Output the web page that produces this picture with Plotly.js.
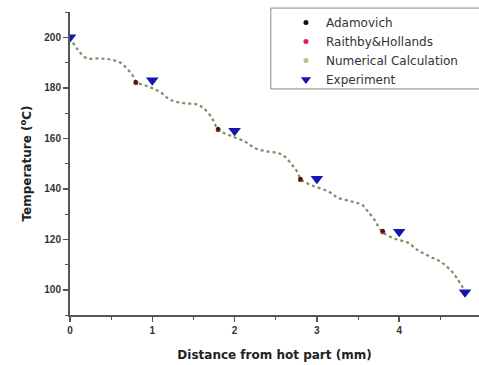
<!DOCTYPE html>
<html>
<head>
<meta charset="utf-8">
<script src="https://cdn.plot.ly/plotly-3.0.1.min.js"></script>
<style>html,body{margin:0;padding:0;background:#fff;}#chart{width:479px;height:365px;}</style>
</head>
<body>
<div id="chart"></div>
<script>
// Numerical calculation curve
const numX = [0, 0.08, 0.2, 0.36, 0.49, 0.61, 0.69, 0.76, 0.8, 0.95, 1.09, 1.22, 1.38, 1.54, 1.62, 1.7, 1.75, 1.8, 1.95, 2.13, 2.25, 2.41, 2.53, 2.61, 2.7, 2.76, 2.81, 2.95, 3.14, 3.26, 3.43, 3.55, 3.62, 3.7, 3.79, 3.95, 4.11, 4.22, 4.37, 4.5, 4.62, 4.7, 4.8];
const numY = [200, 195.7, 191.7, 191.6, 191.2, 190, 187.7, 185, 182.4, 180.5, 178.4, 175.2, 173.9, 173.4, 172, 169.2, 166.5, 163.4, 161, 158.6, 156, 154.7, 154.1, 152.7, 149.4, 146.8, 143.6, 141.2, 138.9, 136.4, 134.9, 133.6, 131, 127.7, 123, 120.2, 118.6, 115.8, 113.2, 111.2, 107.9, 104.7, 99.3];

// Correlations
const corrX = [0.8, 1.8, 2.8, 3.8];
const adamovichY = [182.3, 163.8, 144.0, 123.4];
const raithbyY = [182.0, 163.4, 143.6, 123.0];

// Experiment
const expX = [0, 1, 2, 3, 4, 4.8];
const expY = [200, 183, 163, 144, 123, 99];

const FONT = 'DejaVu Sans, Arial, sans-serif';

const traces = [
  {x: numX, y: numY, mode: 'lines', line: {shape: 'spline', dash: 'dot', width: 2.2, color: 'rgb(115,148,100)'}, showlegend: false, hoverinfo: 'skip'},
  {x: [null], y: [null], mode: 'markers', name: 'Adamovich', marker: {size: 5, color: '#111'}},
  {x: [null], y: [null], mode: 'markers', name: 'Raithby&Hollands', marker: {size: 5, color: '#e0204a'}},
  {x: [null], y: [null], mode: 'markers', name: 'Numerical Calculation', marker: {size: 5, color: '#a8cc88'}},
  {x: [null], y: [null], mode: 'markers', name: 'Experiment', marker: {size: 9, symbol: 'triangle-down', color: '#1515b0'}},
  {x: corrX, y: raithbyY, mode: 'markers', showlegend: false, marker: {size: 5, color: '#b03020'}},
  {x: corrX, y: adamovichY, mode: 'markers', showlegend: false, marker: {size: 4, color: '#222'}},
  {x: expX, y: expY, mode: 'markers', showlegend: false, marker: {size: 11, symbol: 'triangle-down', color: '#1515b0'}}
];

const tickFont = {family: 'Arial, Liberation Sans, sans-serif', size: 10, color: '#333', weight: 'bold'};
const titleFont = {family: FONT, size: 12, color: '#222', weight: 'bold'};
const layout = {
  width: 479, height: 365,
  margin: {l: 70, r: 0, t: 12, b: 50},
  paper_bgcolor: '#fff', plot_bgcolor: '#fff',
  font: {family: FONT},
  xaxis: {
    range: [0, 4.97], tickvals: [0, 1, 2, 3, 4], showgrid: false, zeroline: false,
    showline: true, linecolor: '#555', linewidth: 2,
    ticks: 'outside', ticklen: 5, tickwidth: 1.5, tickcolor: '#555',
    minor: {dtick: 0.5, ticks: 'outside', ticklen: 3, tickcolor: '#555', tickwidth: 1},
    tickfont: tickFont,
    title: {text: 'Distance from hot part (mm)', font: titleFont, standoff: 16}
  },
  yaxis: {
    range: [90, 210], tickvals: [100, 120, 140, 160, 180, 200], showgrid: false, zeroline: false,
    showline: true, linecolor: '#555', linewidth: 2,
    ticks: 'outside', ticklen: 5, tickwidth: 1.5, tickcolor: '#555',
    minor: {dtick: 10, ticks: 'outside', ticklen: 3, tickcolor: '#555', tickwidth: 1},
    tickfont: tickFont,
    title: {text: 'Temperature (<sup>o</sup>C)', font: titleFont, standoff: 10}
  },
  shapes: [{
    type: 'rect', xref: 'paper', yref: 'paper',
    x0: 0.491, x1: 1.1, y0: 0.746, y1: 1.013,
    line: {color: '#888', width: 1}, fillcolor: '#fff', layer: 'above'
  }],
  legend: {
    x: 0.528, y: 1.013, xanchor: 'left', yanchor: 'top',
    bgcolor: 'rgba(0,0,0,0)', borderwidth: 0,
    font: {family: FONT, size: 12, color: '#333'},
    itemwidth: 30
  },
  showlegend: true
};

Plotly.newPlot('chart', traces, layout, {displayModeBar: false, staticPlot: true});
</script>
</body>
</html>
